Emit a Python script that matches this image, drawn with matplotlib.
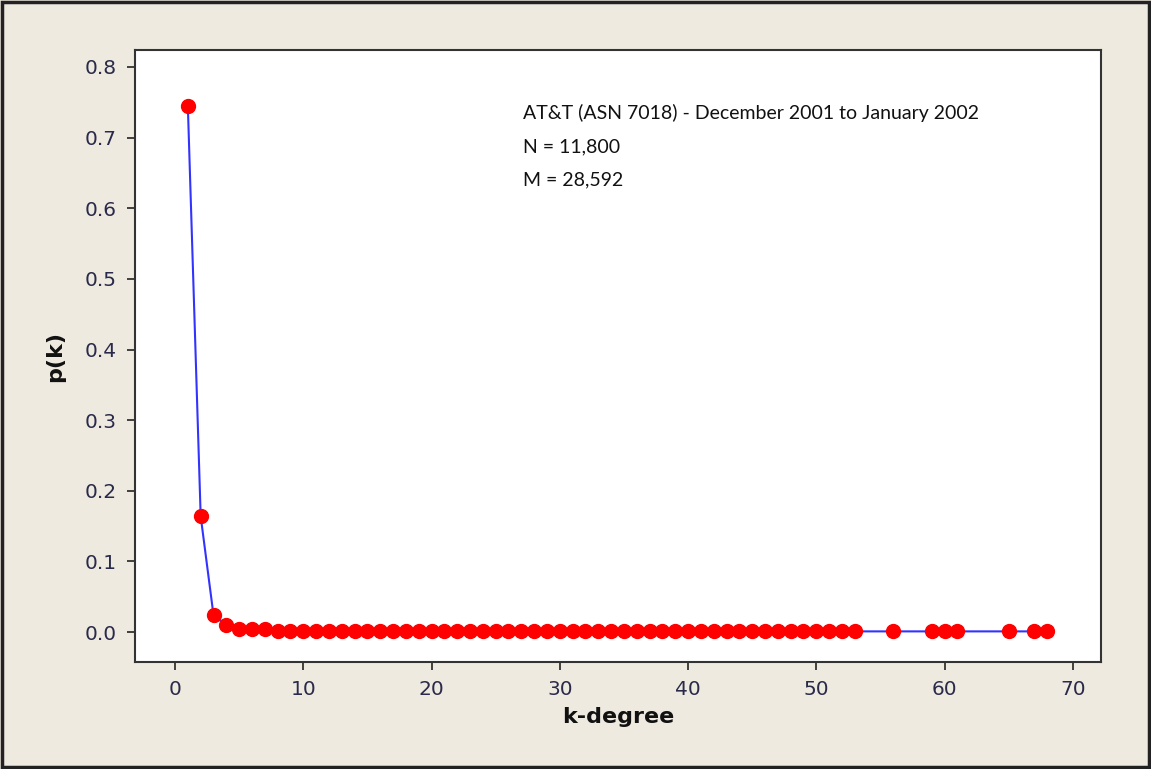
import matplotlib
matplotlib.use("Agg")
import matplotlib.pyplot as plt
from matplotlib.patches import Rectangle

# Data
k_degree = list(range(1, 54)) + [56, 59, 60, 61, 65, 67, 68]
p_k = [0.744, 0.164, 0.024, 0.010, 0.004, 0.004, 0.004] + [0.001] * (len(k_degree) - 7)

x_ticks = [0, 10, 20, 30, 40, 50, 60, 70]
y_ticks = [0.0, 0.1, 0.2, 0.3, 0.4, 0.5, 0.6, 0.7, 0.8]
annotation_lines = ["AT&T (ASN 7018) - December 2001 to January 2002",
                    "N = 11,800",
                    "M = 28,592"]

bg = "#EEEAE0"
fig = plt.figure(figsize=(11.51, 7.69), dpi=100, facecolor=bg)
ax = fig.add_axes([0.1173, 0.139, 0.8393, 0.796])
ax.set_facecolor("white")

ax.plot(k_degree, p_k, color="#3333FF", linewidth=1.5, zorder=2)
ax.plot(k_degree, p_k, linestyle="none", marker="o", markersize=10,
        markerfacecolor="#FF0000", markeredgecolor="#FF0000", zorder=3)

ax.set_xlim(-3.12, 72.2)
ax.set_ylim(-0.0425, 0.824)
ax.set_xticks(x_ticks)
ax.set_yticks(y_ticks)
ax.set_xticklabels([str(v) for v in x_ticks])
ax.set_yticklabels([f"{v:.1f}" for v in y_ticks])

tick_color = "#2A2A4A"
ax.tick_params(axis="both", direction="out", length=6, width=1.3,
               color="#333333", labelsize=14.5, labelcolor=tick_color, pad=7)
for s in ax.spines.values():
    s.set_color("#333333")
    s.set_linewidth(1.5)

ax.set_xlabel("k-degree", fontsize=16, fontweight="bold", color="#111111", labelpad=6)
ax.set_ylabel("p(k)", fontsize=16, fontweight="bold", color="#111111", labelpad=14)

for i, line in enumerate(annotation_lines):
    ax.text(27.1, 0.735 - i * 0.0475, line, fontsize=14, family="Lato",
            color="#111111", va="center", ha="left")

fig.patches.append(Rectangle((0.002, 0.002), 0.996, 0.995, transform=fig.transFigure,
                             fill=False, edgecolor="#222222", linewidth=2.5))

fig.savefig("out.png", dpi=100, facecolor=bg)
